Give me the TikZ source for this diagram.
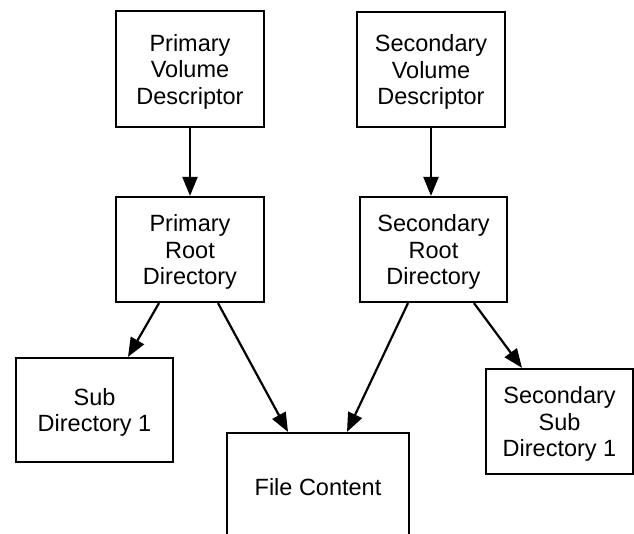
\documentclass[tikz,border=0pt]{standalone}
\usepackage{fontspec}
\setmainfont{Liberation Sans}
\usetikzlibrary{arrows.meta}

\begin{document}
\begin{tikzpicture}[x=1pt,y=-1pt,
  box/.style={draw, line width=2.2pt, align=center, inner sep=0pt,
    text depth=0pt, font=\fontsize{23.5}{26.5}\selectfont},
  link/.style={line width=2.2pt, -{Triangle[length=19pt,width=15pt]}}]
\clip (0,0) rectangle (634,533);

% Volume descriptors
\node[box, minimum width=148pt, minimum height=116pt] (pvd) at (190,69) {Primary\\Volume\\Descriptor};
\node[box, minimum width=148pt, minimum height=115pt] (svd) at (431,69.5) {Secondary\\Volume\\Descriptor};

% Root directories
\node[box, minimum width=148pt, minimum height=105pt] (prd) at (190,249.5) {Primary\\Root\\Directory};
\node[box, minimum width=147pt, minimum height=105pt] (srd) at (433.5,249.5) {Secondary\\Root\\Directory};

% Leaves (file content runs off the bottom)
\node[box, minimum width=157pt, minimum height=104pt] (sub) at (94.5,410) {Sub\\Directory 1};
\node[box, minimum width=182pt, minimum height=108pt] (fc) at (318,487) {File Content};
\node[box, minimum width=147pt, minimum height=105pt] (ssub) at (559.5,421.5) {Secondary\\Sub\\Directory 1};

% Links
\draw[link] (pvd.south) -- (prd.north);
\draw[link] (svd.south) -- (svd.south |- srd.north);
\draw[link] ([xshift=-31pt]prd.south) -- ([xshift=33.5pt]sub.north);
\draw[link] ([xshift=28pt]prd.south) -- ([xshift=-30pt]fc.north);
\draw[link] ([xshift=-25.5pt]srd.south) -- ([xshift=29pt]fc.north);
\draw[link] ([xshift=40.5pt]srd.south) -- ([xshift=-37.5pt]ssub.north);
\end{tikzpicture}
\end{document}
